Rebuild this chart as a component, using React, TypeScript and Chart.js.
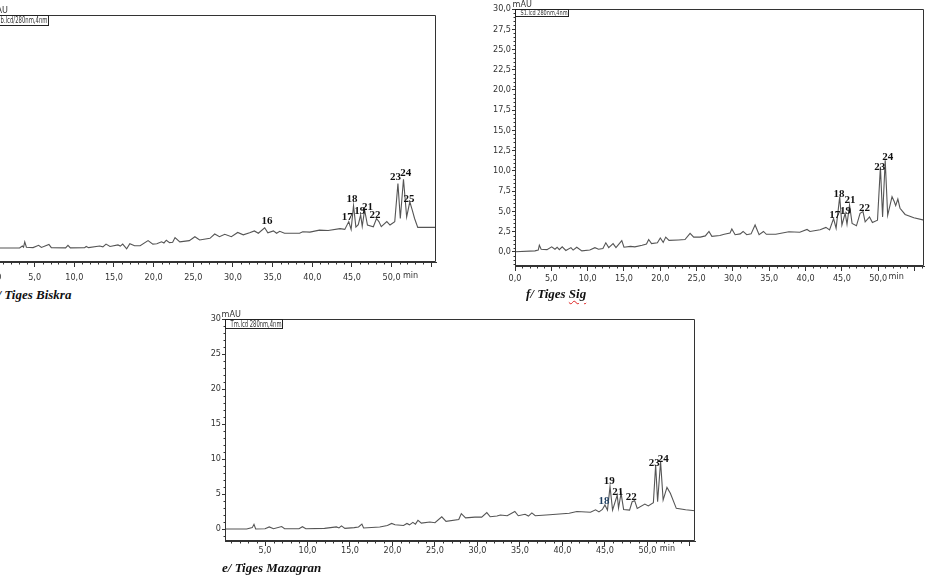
import React, { useEffect, useRef } from "react";
import { Chart, registerables } from "chart.js";
Chart.register(...registerables);

// ---------- Data (retention time in min, absorbance in mAU) ----------
const biskraTime = [0, 3.1, 3.45, 3.6, 3.75, 3.96, 4.8, 5.5, 5.85, 6.8, 7.1, 8.9, 9.2, 9.5, 11.3, 11.5, 11.8, 13.2, 13.6, 14.0, 14.5, 15.5, 15.8, 16.1, 16.6, 17.0, 17.6, 18.3, 19.3, 19.9, 20.4, 21.0, 21.3, 21.6, 22.0, 22.4, 22.7, 23.3, 24.5, 25.2, 25.8, 27.1, 27.7, 28.3, 28.97, 29.8, 30.6, 31.3, 32.1, 32.7, 33.2, 34.0, 34.4, 35.1, 35.5, 35.9, 36.5, 38.4, 38.8, 39.7, 40.9, 42.0, 43.5, 44.1, 44.6, 44.9, 45.2, 45.5, 45.8, 46.1, 46.3, 46.6, 46.96, 47.7, 48.1, 48.4, 48.7, 49.4, 49.8, 50.4, 50.8, 51.1, 51.5, 51.9, 52.3, 52.6, 52.9, 53.3, 55.6];
const biskraMAU = [0, 0, 0.26, 0.1, 0.8, 0.1, 0.05, 0.35, 0.08, 0.47, 0.05, 0.02, 0.35, 0.02, 0.05, 0.2, 0.05, 0.26, 0.15, 0.5, 0.2, 0.4, 0.25, 0.5, -0.1, 0.55, 0.3, 0.3, 0.95, 0.5, 0.55, 0.8, 0.65, 1.0, 0.7, 0.75, 1.35, 0.8, 0.95, 1.45, 1.03, 1.25, 1.8, 1.45, 1.76, 1.45, 2.0, 1.7, 1.97, 2.2, 1.9, 2.6, 1.95, 2.2, 1.9, 2.15, 1.9, 1.9, 2.1, 2.05, 2.3, 2.25, 2.5, 2.4, 3.4, 2.4, 5.45, 2.7, 3.0, 4.25, 2.8, 4.9, 2.96, 2.74, 3.8, 3.4, 2.75, 3.4, 2.96, 3.4, 8.3, 3.8, 8.85, 4.0, 5.95, 4.9, 3.8, 2.66, 2.66];
const biskraPeakIds = ["16", "17", "18", "19", "21", "22", "23", "24", "25"];
const biskraPeakTime = [34.3, 44.4, 45.0, 46.0, 46.96, 47.9, 50.5, 51.8, 52.2];
const biskraPeakMAU = [3.47, 4.0, 6.3, 4.7, 5.3, 4.25, 9.1, 9.6, 6.3];

const sigTime = [0, 2.75, 3.2, 3.35, 3.6, 4.4, 5.05, 5.5, 5.8, 6.1, 6.5, 7.0, 7.7, 8.0, 8.5, 9.2, 10.3, 11.0, 11.5, 12.1, 12.5, 12.9, 13.5, 13.9, 14.7, 15.0, 15.9, 16.5, 17.5, 18.1, 18.4, 18.8, 19.6, 20.0, 20.4, 20.75, 21.2, 22.5, 23.4, 24.1, 24.6, 25.5, 26.2, 26.7, 27.1, 28.2, 28.8, 29.6, 29.85, 30.3, 31.0, 31.4, 31.9, 32.5, 33.05, 33.6, 34.2, 34.6, 35.9, 37.7, 39.2, 40.2, 40.6, 42.0, 42.8, 43.3, 43.85, 44.2, 44.7, 45.0, 45.45, 45.7, 46.05, 46.4, 47.0, 47.5, 47.9, 48.2, 48.8, 49.2, 49.9, 50.3, 50.6, 50.96, 51.3, 51.9, 52.2, 52.4, 52.7, 53.0, 53.7, 54.9, 56.3];
const sigMAU = [0, 0.1, 0.2, 0.8, 0.3, 0.25, 0.6, 0.3, 0.55, 0.25, 0.6, 0.15, 0.5, 0.2, 0.55, 0.1, 0.2, 0.5, 0.3, 0.4, 1.1, 0.5, 1.0, 0.5, 1.36, 0.55, 0.65, 0.6, 0.8, 0.95, 1.5, 1.0, 1.1, 1.7, 1.15, 1.8, 1.4, 1.45, 1.5, 2.27, 1.8, 1.8, 1.95, 2.5, 1.9, 2.0, 2.15, 2.3, 2.8, 2.1, 2.2, 2.5, 2.1, 2.2, 3.3, 2.1, 2.5, 2.15, 2.15, 2.47, 2.4, 2.75, 2.5, 2.7, 3.0, 2.7, 4.08, 2.9, 6.8, 3.3, 4.75, 3.4, 5.77, 3.5, 3.2, 4.75, 4.95, 3.7, 4.3, 3.6, 3.9, 10.5, 4.3, 11.3, 4.5, 6.8, 6.2, 5.7, 6.5, 5.37, 4.6, 4.2, 3.9];
const sigPeakIds = ["17", "18", "19", "21", "22", "23", "24"];
const sigPeakTime = [44.0, 44.6, 45.5, 46.1, 48.1, 50.2, 51.3];
const sigPeakMAU = [4.5, 7.1, 5.07, 6.4, 5.36, 10.5, 11.7];

const mazTime = [0.29, 2.84, 3.5, 3.7, 3.9, 5.0, 5.5, 6.0, 6.96, 7.3, 9.0, 9.4, 9.8, 12.0, 13.4, 13.7, 14.0, 14.4, 15.5, 16.0, 16.4, 16.6, 18.5, 19.4, 19.9, 20.3, 21.3, 21.7, 22.0, 22.4, 22.7, 23.0, 23.4, 24.4, 25.0, 25.8, 26.3, 27.8, 28.1, 28.6, 29.7, 30.5, 31.1, 31.5, 32.3, 32.7, 33.5, 34.4, 34.8, 35.6, 36.0, 36.4, 36.8, 38.5, 40.8, 41.7, 43.3, 43.9, 44.3, 44.7, 45.0, 45.3, 45.6, 45.9, 46.45, 46.6, 46.9, 47.2, 47.9, 48.2, 48.5, 48.8, 49.7, 50.1, 50.7, 50.97, 51.2, 51.55, 51.85, 52.3, 52.7, 53.4, 54.5, 55.6];
const mazMAU = [0, 0, 0.2, 0.67, 0, 0.05, 0.3, 0.05, 0.35, 0.05, 0.05, 0.33, 0.05, 0.1, 0.3, 0.15, 0.45, 0.1, 0.2, 0.3, 0.7, 0.15, 0.3, 0.5, 0.8, 0.6, 0.5, 0.8, 0.6, 0.95, 0.7, 1.25, 0.85, 1.0, 0.9, 1.75, 1.1, 1.35, 2.2, 1.6, 1.7, 1.7, 2.35, 1.75, 1.85, 2.0, 1.9, 2.5, 1.9, 2.1, 1.85, 2.3, 1.9, 2.05, 2.25, 2.5, 2.4, 2.75, 2.45, 2.8, 3.43, 2.7, 6.05, 2.7, 4.86, 3.0, 5.1, 2.8, 2.7, 3.9, 4.05, 2.95, 3.57, 3.3, 3.76, 9.14, 3.9, 9.6, 4.14, 5.95, 5.1, 2.95, 2.75, 2.6];
const mazPeakIds = ["18", "19", "21", "22", "23", "24"];
const mazPeakTime = [44.9, 45.5, 46.5, 48.1, 50.8, 51.85];
const mazPeakMAU = [4.05, 6.86, 5.2, 4.5, 9.4, 9.96];

// ---------- Layout / style configuration ----------
const Y_AXIS_W = 40;
const X_AXIS_H = 22;
const PAD_TOP = 14;
const PAD_RIGHT = 6;
const LAST_LABELLED_MIN = 50;
const TICK_FONT = "'Liberation Sans Narrow', 'DejaVu Sans Condensed', 'Liberation Sans', sans-serif";

type PanelCfg = {
  time: number[];
  mau: number[];
  peakIds: string[];
  peakTime: number[];
  peakMAU: number[];
  peakColors?: string[];
  area: { left: number; top: number; right: number; bottom: number };
  xMin: number;
  xMax: number;
  yMin: number;
  yStep: number;
  yMinor: number;
  yDecimals: number;
  detector: string;
  detW: number;
  detH: number;
  detFont: number;
  xLabelPad: number;
  mauDx: number;
  minDx: number;
};

const panels: PanelCfg[] = [
  {
    time: biskraTime, mau: biskraMAU, peakIds: biskraPeakIds, peakTime: biskraPeakTime, peakMAU: biskraPeakMAU,
    area: { left: -5, top: 15, right: 436, bottom: 262 },
    xMin: 0, xMax: 55.6, yMin: -1.8, yStep: 5, yMinor: 1, yDecimals: 0,
    detector: "b.lcd/280nm,4nm", detW: 53, detH: 10, detFont: 8, xLabelPad: 5, mauDx: -7, minDx: 19,
  },
  {
    time: sigTime, mau: sigMAU, peakIds: sigPeakIds, peakTime: sigPeakTime, peakMAU: sigPeakMAU,
    area: { left: 515, top: 9, right: 924, bottom: 266 },
    xMin: 0, xMax: 56.3, yMin: -1.77, yStep: 2.5, yMinor: 0.5, yDecimals: 1,
    detector: "S1.lcd 280nm,4nm", detW: 53, detH: 7, detFont: 7, xLabelPad: 2, mauDx: -3, minDx: 18,
  },
  {
    time: mazTime, mau: mazMAU, peakIds: mazPeakIds, peakTime: mazPeakTime, peakMAU: mazPeakMAU,
    peakColors: ["#1d3d5e", "#111", "#111", "#111", "#111", "#111"],
    area: { left: 225, top: 319, right: 695, bottom: 541 },
    xMin: 0.29, xMax: 55.6, yMin: -1.71, yStep: 5, yMinor: 1, yDecimals: 0,
    detector: "Tm.lcd 280nm,4nm", detW: 57, detH: 9, detFont: 8, xLabelPad: -1, mauDx: -4, minDx: 20,
  },
];

const fmt = (v: number, d: number) => v.toFixed(d).replace(".", ",");

function Chromatogram({ cfg }: { cfg: PanelCfg }) {
  const ref = useRef<HTMLCanvasElement>(null);
  const a = cfg.area;
  const w = Y_AXIS_W + (a.right - a.left) + PAD_RIGHT;
  const h = PAD_TOP + (a.bottom - a.top) + X_AXIS_H;
  const left = a.left - Y_AXIS_W;
  const top = a.top - PAD_TOP;

  useEffect(() => {
    const decor = {
      id: "decor",
      afterDraw(chart: any) {
        const { ctx, chartArea: ca, scales } = chart;
        const x = scales.x;
        const y = scales.y;
        ctx.save();
        ctx.strokeStyle = "#333";
        ctx.lineWidth = 1;
        const L = Math.round(ca.left) + 0.5;
        const T = Math.round(ca.top) + 0.5;
        const R = Math.round(ca.right) - 0.5;
        const B = Math.round(ca.bottom) - 0.5;
        ctx.beginPath();
        ctx.moveTo(L, T); ctx.lineTo(R, T); ctx.lineTo(R, B); ctx.lineTo(L, B); ctx.closePath();
        ctx.stroke();
        // minor x ticks
        ctx.beginPath();
        for (let t = Math.ceil(x.min); t <= x.max; t += 1) {
          if (t % 5 === 0) continue;
          const px = Math.round(x.getPixelForValue(t)) + 0.5;
          ctx.moveTo(px, B); ctx.lineTo(px, B + 3);
        }
        // minor y ticks
        const n0 = Math.ceil(y.min / cfg.yMinor - 1e-9);
        for (let k = n0; k * cfg.yMinor <= y.max + 1e-9; k++) {
          const v = k * cfg.yMinor;
          const r = v / cfg.yStep;
          if (Math.abs(r - Math.round(r)) < 1e-6) continue;
          const py = Math.round(y.getPixelForValue(v)) + 0.5;
          ctx.moveTo(L - 2, py); ctx.lineTo(L, py);
        }
        ctx.stroke();
        // "min" unit label
        ctx.fillStyle = "#333";
        ctx.font = `9px ${TICK_FONT}`;
        ctx.textAlign = "center";
        ctx.textBaseline = "top";
        ctx.fillText("min", x.getPixelForValue(LAST_LABELLED_MIN) + cfg.minDx, B + 5 + cfg.xLabelPad);
        // "mAU" label
        ctx.textAlign = "left";
        ctx.textBaseline = "bottom";
        ctx.fillText("mAU", L + cfg.mauDx, T);
        // detector label box
        ctx.fillStyle = "#fff";
        ctx.fillRect(L, T, cfg.detW, cfg.detH);
        ctx.strokeStyle = "#222";
        ctx.strokeRect(L, T, cfg.detW, cfg.detH);
        ctx.fillStyle = "#333";
        ctx.font = `${cfg.detFont}px ${TICK_FONT}`;
        ctx.textBaseline = "middle";
        ctx.fillText(cfg.detector, L + 5, T + cfg.detH / 2 + 0.5, cfg.detW - 6);
        // peak labels
        ctx.font = "bold 11px 'Liberation Serif', 'DejaVu Serif', serif";
        ctx.textAlign = "center";
        ctx.textBaseline = "middle";
        cfg.peakIds.forEach((id, i) => {
          ctx.fillStyle = cfg.peakColors ? cfg.peakColors[i] : "#111";
          ctx.fillText(id, x.getPixelForValue(cfg.peakTime[i]), y.getPixelForValue(cfg.peakMAU[i]));
        });
        ctx.restore();
      },
    };

    const chart = new Chart(ref.current!, {
      type: "line",
      data: {
        datasets: [
          {
            data: cfg.time.map((t, i) => ({ x: t, y: cfg.mau[i] })),
            borderColor: "#555",
            borderWidth: 1.1,
            pointRadius: 0,
            tension: 0,
            fill: false,
          },
        ],
      },
      options: {
        responsive: false,
        animation: false,
        devicePixelRatio: 1,
        layout: { padding: { top: PAD_TOP, right: PAD_RIGHT, left: 0, bottom: 0 }, autoPadding: false } as any,
        plugins: { legend: { display: false }, tooltip: { enabled: false } },
        scales: {
          x: {
            type: "linear",
            min: cfg.xMin,
            max: cfg.xMax,
            afterFit: (s: any) => { s.height = X_AXIS_H; },
            grid: { drawOnChartArea: false, drawTicks: true, tickLength: 5, color: "#333" },
            border: { display: true, color: "#333" },
            ticks: {
              stepSize: 5,
              includeBounds: false,
              autoSkip: false,
              maxRotation: 0,
              padding: cfg.xLabelPad,
              color: "#333",
              font: { size: 9, family: TICK_FONT },
              callback: (v: any) => (Number(v) > LAST_LABELLED_MIN ? "" : fmt(Number(v), 1)),
            },
          },
          y: {
            type: "linear",
            min: cfg.yMin,
            max: 30,
            afterFit: (s: any) => { s.width = Y_AXIS_W; },
            grid: { drawOnChartArea: false, drawTicks: true, tickLength: 3, color: "#333" },
            border: { display: true, color: "#333" },
            ticks: {
              stepSize: cfg.yStep,
              includeBounds: false,
              padding: 1,
              color: "#333",
              font: { size: 9, family: TICK_FONT },
              callback: (v: any) => fmt(Number(v), cfg.yDecimals),
            },
          },
        },
      },
      plugins: [decor],
    } as any);
    return () => chart.destroy();
  }, []);

  return (
    <canvas
      ref={ref}
      width={w}
      height={h}
      style={{ position: "absolute", left, top, width: w, height: h }}
    />
  );
}

const titleStyle: React.CSSProperties = {
  position: "absolute",
  fontFamily: "'Liberation Serif', 'DejaVu Serif', serif",
  fontWeight: "bold",
  fontStyle: "italic",
  fontSize: 13,
  lineHeight: "15px",
  color: "#111",
  whiteSpace: "nowrap",
};

export default function App() {
  return (
    <div
      style={{
        position: "absolute",
        left: 0,
        top: 0,
        width: 930,
        height: 575,
        overflow: "hidden",
        background: "#fff",
      }}
    >
      {panels.map((p, i) => (
        <Chromatogram key={i} cfg={p} />
      ))}
      <div style={{ ...titleStyle, left: -9, top: 287 }}>d/ Tiges Biskra</div>
      <div style={{ ...titleStyle, left: 526, top: 286 }}>
        f/ Tiges{" "}
        <span style={{ textDecoration: "underline wavy #d22", textDecorationThickness: 1, textUnderlineOffset: 2 }}>Sig</span>
      </div>
      <div style={{ ...titleStyle, left: 222, top: 560 }}>e/ Tiges Mazagran</div>
    </div>
  );
}
